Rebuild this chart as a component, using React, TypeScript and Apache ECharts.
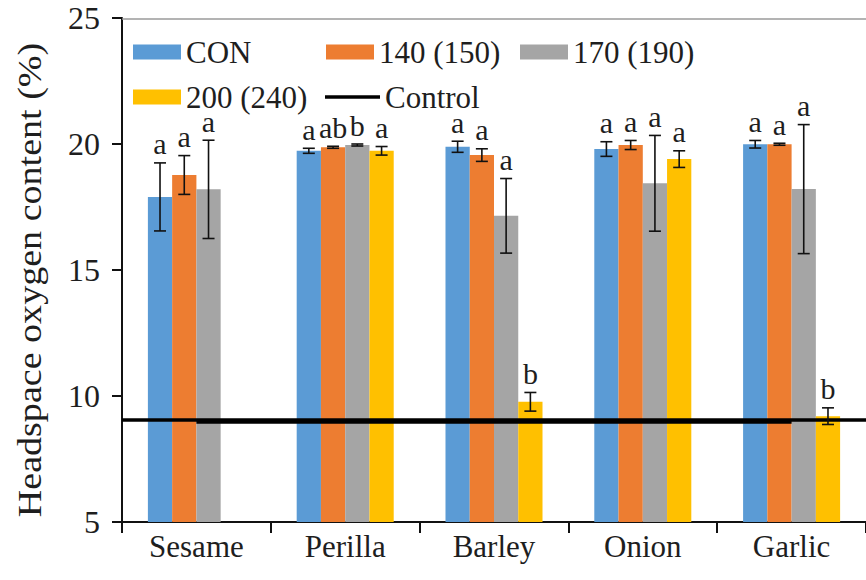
import React, { useEffect, useRef } from "react";
import * as echarts from "echarts";

const categories = ["Sesame", "Perilla", "Barley", "Onion", "Garlic"];
const seriesNames = ["CON", "140 (150)", "170 (190)", "200 (240)"];
const conValues = [17.9, 19.73, 19.89, 19.8, 19.99];
const conErrors = [1.35, 0.1, 0.22, 0.29, 0.15];
const conLetters = ["a", "a", "a", "a", "a"];
const v140Values = [18.77, 19.87, 19.56, 19.96, 19.99];
const v140Errors = [0.77, 0.04, 0.25, 0.18, 0.04];
const v140Letters = ["a", "ab", "a", "a", "a"];
const v170Values = [18.2, 19.96, 17.15, 18.44, 18.21];
const v170Errors = [1.95, 0.04, 1.48, 1.9, 2.56];
const v170Letters = ["a", "b", "a", "a", "a"];
const v200Values = [null, 19.73, 9.77, 19.4, 9.2];
const v200Errors = [null, 0.17, 0.37, 0.33, 0.33];
const v200Letters = ["", "a", "b", "a", "b"];
const controlValues = [8.97, 8.97, 8.97, 8.97, 8.97];
const controlLevel = 9.05;
const yTicks = { min: 5, max: 25, interval: 5 };

const colors = ["#5B9BD5", "#ED7D31", "#A5A5A5", "#FFC000"];
const FAMILY = "Liberation Serif, Times New Roman, serif";
const TEXT = "#1e1e1e";
const BAR_FRAC = 0.163;

const groups = [
  { values: conValues, errors: conErrors, letters: conLetters },
  { values: v140Values, errors: v140Errors, letters: v140Letters },
  { values: v170Values, errors: v170Errors, letters: v170Letters },
  { values: v200Values, errors: v200Errors, letters: v200Letters },
];

export default function App() {
  const ref = useRef<HTMLDivElement>(null);
  useEffect(() => {
    const chart = echarts.init(ref.current!, null, { renderer: "svg" });

    const barSeries = groups.map((g, gi) => ({
      name: seriesNames[gi],
      type: "bar",
      data: g.values.map((v) => (v == null ? "-" : v)),
      barWidth: BAR_FRAC * 100 + "%",
      barGap: "0%",
      itemStyle: { color: colors[gi] },
      z: 2,
    }));

    const errSeries = groups.map((g, gi) => {
      const data: any[] = [];
      const letters: string[] = [];
      g.values.forEach((v, i) => {
        if (v != null) {
          data.push([i, v, g.errors[i]]);
          letters.push(g.letters[i]);
        }
      });
      return {
        type: "custom",
        name: "err" + gi,
        z: 5,
        silent: true,
        data,
        renderItem: (params: any, api: any) => {
          const ci = api.value(0);
          const v = api.value(1);
          const e = api.value(2);
          const band = api.size([1, 0])[0];
          const bw = band * BAR_FRAC;
          const c = api.coord([ci, v]);
          const x = c[0] + (gi - 1.5) * bw;
          const yT = api.coord([ci, v + e])[1];
          const yB = api.coord([ci, v - e])[1];
          const st = { stroke: "#111", lineWidth: 1.6 };
          const cap = 6;
          return {
            type: "group",
            children: [
              { type: "line", shape: { x1: x, y1: yT, x2: x, y2: yB }, style: st },
              { type: "line", shape: { x1: x - cap, y1: yT, x2: x + cap, y2: yT }, style: st },
              { type: "line", shape: { x1: x - cap, y1: yB, x2: x + cap, y2: yB }, style: st },
              {
                type: "text",
                x: x,
                y: yT - 9,
                style: {
                  text: letters[params.dataIndex],
                  fill: TEXT,
                  font: "30px " + FAMILY,
                  lineHeight: 20,
                  align: "center",
                  verticalAlign: "bottom",
                },
              },
            ],
          };
        },
      };
    });

    const legendBase = {
      itemWidth: 48,
      itemHeight: 15,
      icon: "rect",
      textStyle: { fontFamily: FAMILY, fontSize: 31, color: TEXT, lineHeight: 22 },
      selectedMode: false,
      padding: 0,
    };

    chart.setOption({
      animation: false,
      backgroundColor: "#fff",
      textStyle: { fontFamily: FAMILY, color: TEXT },
      grid: { left: 122, right: -6, top: 18, bottom: 58, containLabel: false },
      legend: [
        { ...legendBase, data: [seriesNames[0]], left: 133, top: 36.5 },
        { ...legendBase, data: [seriesNames[1]], left: 326, top: 36.5 },
        { ...legendBase, data: [seriesNames[2]], left: 520, top: 36.5 },
        { ...legendBase, data: [seriesNames[3]], left: 133, top: 81.5 },
        {
          ...legendBase,
          itemWidth: 55,
          itemHeight: 3.5,
          data: [{ name: "Control", icon: "rect" }],
          left: 325,
          top: 81.5,
        },
      ],
      xAxis: {
        type: "category",
        data: categories,
        axisLine: { lineStyle: { color: "#111", width: 2 } },
        axisTick: { show: true, length: 11, lineStyle: { color: "#111", width: 2 } },
        axisLabel: { fontFamily: FAMILY, fontSize: 31, color: TEXT, margin: 9 },
      },
      yAxis: {
        type: "value",
        min: yTicks.min,
        max: yTicks.max,
        interval: yTicks.interval,
        splitLine: { show: false },
        axisLine: { show: true, lineStyle: { color: "#111", width: 2 } },
        axisTick: { show: true, length: 10, lineStyle: { color: "#111", width: 2 } },
        axisLabel: { fontFamily: FAMILY, fontSize: 32, color: TEXT, margin: 22 },
      },
      graphic: [
        {
          type: "line",
          shape: { x1: 122, y1: 19, x2: 866, y2: 19 },
          style: { stroke: "#9a9a9a", lineWidth: 1.5 },
          z: 10,
        },
        {
          type: "text",
          x: 30,
          y: 280,
          rotation: Math.PI / 2,
          scaleX: 1.12,
          style: {
            text: "Headspace oxygen content (%)",
            font: "34px " + FAMILY,
            fill: TEXT,
            align: "center",
            verticalAlign: "middle",
          },
        },
      ],
      series: [
        ...barSeries,
        {
          name: "Control",
          type: "line",
          data: controlValues,
          symbol: "none",
          color: "#000",
          lineStyle: { color: "#000", width: 3.5 },
          z: 4,
          markLine: {
            silent: true,
            symbol: "none",
            label: { show: false },
            lineStyle: { color: "#000", width: 3.5, type: "solid" },
            data: [{ yAxis: controlLevel }],
          },
        },
        ...errSeries,
      ],
    } as any);
    return () => chart.dispose();
  }, []);
  return (
    <div
      ref={ref}
      style={{ position: "fixed", left: 0, top: 0, width: 866, height: 580 }}
    />
  );
}
